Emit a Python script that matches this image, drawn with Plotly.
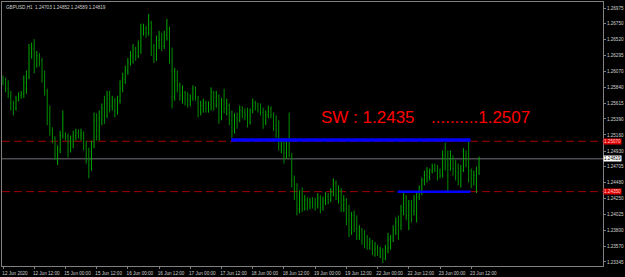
import plotly.graph_objects as go

SYMBOL = "GBPUSD,H1"

OPEN = [1.2594,1.2591,1.2582,1.2575,1.2562,1.2554,1.2565,1.2572,1.2575,1.2591,
        1.2599,1.2633,1.2639,1.2615,1.2629,1.2622,1.2601,1.2579,1.2544,1.2522,
        1.2511,1.2487,1.2494,1.2515,1.2517,1.2514,1.2494,1.2508,1.2515,1.2520,
        1.2515,1.2518,1.2501,1.2480,1.2473,1.2501,1.2537,1.2522,1.2540,1.2554,
        1.2544,1.2568,1.2558,1.2565,1.2551,1.2565,1.2582,1.2596,1.2608,1.2619,
        1.2629,1.2639,1.2629,1.2643,1.2665,1.2668,1.2662,1.2676,1.2643,1.2625,
        1.2651,1.2653,1.2643,1.2658,1.2668,1.2622,1.2572,1.2594,1.2587,1.2572,
        1.2577,1.2568,1.2565,1.2569,1.2582,1.2569,1.2551,1.2558,1.2562,1.2554,
        1.2559,1.2577,1.2558,1.2572,1.2540,1.2565,1.2554,1.2558,1.2537,1.2522,
        1.2540,1.2537,1.2551,1.2548,1.2544,1.2534,1.2551,1.2562,1.2557,1.2552,
        1.2548,1.2532,1.2544,1.2554,1.2545,1.2530,1.2522,1.2501,1.2508,1.2494,
        1.2501,1.2487,1.2451,1.2430,1.2416,1.2423,1.2411,1.2423,1.2416,1.2420,
        1.2418,1.2416,1.2426,1.2413,1.2423,1.2428,1.2424,1.2434,1.2448,1.2430,
        1.2437,1.2416,1.2423,1.2394,1.2380,1.2401,1.2387,1.2373,1.2380,1.2366,
        1.2363,1.2359,1.2363,1.2352,1.2354,1.2349,1.2352,1.2340,1.2354,1.2366,
        1.2369,1.2380,1.2391,1.2387,1.2408,1.2426,1.2401,1.2416,1.2408,1.2423,
        1.2427,1.2437,1.2451,1.2458,1.2463,1.2465,1.2471,1.2465,1.2463,1.2458,
        1.2487,1.2480,1.2473,1.2482,1.2468,1.2463,1.2451,1.2465,1.2487,1.2480,
        1.2465,1.2454,1.2458,1.24703]
HIGH = [1.2601,1.2598,1.2594,1.2579,1.2565,1.2572,1.2577,1.2579,1.2601,1.2608,
        1.2646,1.2648,1.2653,1.2636,1.2633,1.2626,1.2608,1.2582,1.2558,1.2527,
        1.2514,1.2501,1.2522,1.2551,1.2520,1.2518,1.2515,1.2522,1.2525,1.2524,
        1.2525,1.2521,1.2508,1.2498,1.2508,1.2548,1.2547,1.2551,1.2561,1.2572,
        1.2579,1.2579,1.2572,1.2569,1.2572,1.2594,1.2605,1.2615,1.2626,1.2636,
        1.2646,1.2642,1.2651,1.2675,1.2675,1.2672,1.2689,1.2679,1.2646,1.2658,
        1.2665,1.2662,1.2665,1.2682,1.2671,1.2641,1.2612,1.2608,1.2591,1.2587,
        1.2579,1.2577,1.2574,1.2587,1.2585,1.2572,1.2565,1.2568,1.2565,1.2564,
        1.2584,1.2579,1.2579,1.2574,1.2569,1.2582,1.2568,1.2561,1.2551,1.2547,
        1.2548,1.2558,1.2557,1.2554,1.2555,1.2554,1.2568,1.2565,1.2562,1.2561,
        1.2555,1.2551,1.2558,1.2557,1.2548,1.2544,1.2537,1.2511,1.2511,1.2508,
        1.2548,1.2490,1.2458,1.2447,1.2437,1.2441,1.2430,1.2427,1.2426,1.2427,
        1.2426,1.2433,1.2430,1.2428,1.2434,1.2433,1.2440,1.2454,1.2451,1.2444,
        1.2440,1.2430,1.2426,1.2416,1.2406,1.2408,1.2401,1.2387,1.2383,1.2380,
        1.2373,1.2369,1.2366,1.2363,1.2359,1.2356,1.2354,1.2359,1.2376,1.2373,
        1.2387,1.2398,1.2401,1.2416,1.2433,1.2430,1.2423,1.2423,1.2430,1.2433,
        1.2444,1.2455,1.2465,1.2470,1.2468,1.2475,1.2475,1.2473,1.2468,1.2494,
        1.2505,1.2494,1.2494,1.2487,1.2480,1.2475,1.2473,1.2497,1.2494,1.2508,
        1.2468,1.2465,1.2470,1.24852]
LOW = [1.2587,1.2577,1.2569,1.2551,1.2544,1.2551,1.2564,1.2568,1.2569,1.2575,
       1.2596,1.2625,1.2604,1.2612,1.2614,1.2591,1.2572,1.2530,1.2515,1.2504,
       1.2480,1.2473,1.2490,1.2511,1.2508,1.2484,1.2491,1.2497,1.2508,1.2511,
       1.2508,1.2494,1.2475,1.2454,1.2465,1.2497,1.2508,1.2508,1.2530,1.2532,
       1.2540,1.2548,1.2551,1.2541,1.2545,1.2561,1.2577,1.2589,1.2602,1.2615,
       1.2618,1.2622,1.2626,1.2632,1.2658,1.2655,1.2658,1.2629,1.2619,1.2622,
       1.2639,1.2636,1.2639,1.2651,1.2618,1.2554,1.2565,1.2577,1.2565,1.2561,
       1.2558,1.2555,1.2557,1.2565,1.2565,1.2541,1.2544,1.2548,1.2548,1.2548,
       1.2551,1.2551,1.2555,1.2532,1.2537,1.2547,1.2544,1.2530,1.2512,1.2518,
       1.2525,1.2534,1.2540,1.2537,1.2527,1.2531,1.2547,1.2551,1.2548,1.2544,
       1.2525,1.2530,1.2540,1.2540,1.2522,1.2512,1.2494,1.2490,1.2475,1.2482,
       1.2484,1.2441,1.2423,1.2401,1.2404,1.2406,1.2408,1.2408,1.2410,1.2411,
       1.2408,1.2411,1.2404,1.2408,1.2416,1.2417,1.2420,1.2428,1.2423,1.2418,
       1.2406,1.2406,1.2387,1.2370,1.2373,1.2377,1.2366,1.2366,1.2359,1.2354,
       1.2352,1.2352,1.2344,1.2342,1.2343,1.2340,1.2333,1.2337,1.2347,1.2352,
       1.2363,1.2373,1.2366,1.2380,1.2401,1.2394,1.2380,1.2391,1.2401,1.2391,
       1.2423,1.2430,1.2444,1.2448,1.2451,1.2461,1.2463,1.2451,1.2454,1.2455,
       1.2465,1.2434,1.2465,1.2458,1.2451,1.2444,1.2441,1.2463,1.2470,1.2448,
       1.2440,1.2444,1.2433,1.24589]
CLOSE = [1.2591,1.2582,1.2575,1.2562,1.2554,1.2565,1.2572,1.2575,1.2591,1.2599,
         1.2633,1.2639,1.2615,1.2629,1.2622,1.2601,1.2579,1.2544,1.2522,1.2511,
         1.2487,1.2494,1.2515,1.2540,1.2514,1.2494,1.2508,1.2515,1.2520,1.2515,
         1.2518,1.2501,1.2480,1.2473,1.2501,1.2537,1.2522,1.2540,1.2554,1.2544,
         1.2568,1.2558,1.2565,1.2551,1.2565,1.2582,1.2596,1.2608,1.2619,1.2629,
         1.2639,1.2629,1.2643,1.2665,1.2668,1.2662,1.2676,1.2643,1.2625,1.2651,
         1.2653,1.2643,1.2658,1.2668,1.2622,1.2572,1.2594,1.2587,1.2572,1.2577,
         1.2568,1.2565,1.2569,1.2582,1.2569,1.2551,1.2558,1.2562,1.2554,1.2559,
         1.2577,1.2558,1.2572,1.2540,1.2565,1.2554,1.2558,1.2537,1.2522,1.2540,
         1.2537,1.2551,1.2548,1.2544,1.2534,1.2551,1.2562,1.2557,1.2552,1.2548,
         1.2532,1.2544,1.2554,1.2545,1.2530,1.2522,1.2501,1.2508,1.2494,1.2501,
         1.2487,1.2451,1.2430,1.2416,1.2423,1.2411,1.2423,1.2416,1.2420,1.2417,
         1.2416,1.2426,1.2413,1.2423,1.2428,1.2424,1.2434,1.2448,1.2430,1.2437,
         1.2416,1.2423,1.2394,1.2380,1.2401,1.2387,1.2373,1.2380,1.2366,1.2363,
         1.2359,1.2363,1.2352,1.2354,1.2349,1.2352,1.2340,1.2354,1.2366,1.2369,
         1.2380,1.2391,1.2387,1.2408,1.2426,1.2401,1.2416,1.2408,1.2423,1.2427,
         1.2437,1.2451,1.2458,1.2463,1.2465,1.2471,1.2465,1.2463,1.2458,1.2487,
         1.2480,1.2473,1.2482,1.2468,1.2463,1.2451,1.2465,1.2487,1.2480,1.2465,
         1.2454,1.2458,1.2471,1.24819]

TIME_LABELS = ["12 Jun 2020", "12 Jun 12:00", "15 Jun 00:00", "15 Jun 12:00",
               "16 Jun 00:00", "16 Jun 12:00", "17 Jun 00:00", "17 Jun 12:00",
               "18 Jun 00:00", "18 Jun 12:00", "19 Jun 00:00", "19 Jun 12:00",
               "22 Jun 00:00", "22 Jun 12:00", "23 Jun 00:00", "23 Jun 12:00"]
TIME_LABEL_BARS = [0, 12, 24, 36, 48, 60, 72, 84, 96, 108, 120, 132, 144, 156, 168, 180]

PRICE_TICKS = [1.26975, 1.26750, 1.26520, 1.26295, 1.26070, 1.25840, 1.25615, 1.25390,
               1.25160, 1.24930, 1.24705, 1.24480, 1.24250, 1.24025, 1.23800, 1.23570, 1.23345]

SW_LOW = 1.2435
SW_HIGH = 1.2507
ZONE_TOP = 1.2509
ZONE_TOP_START_BAR = 87.7
ZONE_LOW_START_BAR = 151.7
ZONE_END_BAR = 179.7
LEVEL_LABELS = ["1.25070", "1.24350"]
BID = 1.24819

bars = list(range(len(CLOSE)))

fig = go.Figure()
fig.add_trace(go.Ohlc(
    x=bars, open=OPEN, high=HIGH, low=LOW, close=CLOSE,
    increasing=dict(line=dict(color="#00a800", width=1)),
    decreasing=dict(line=dict(color="#008c00", width=1)),
    tickwidth=0.18, hoverinfo="skip", showlegend=False,
))

# dashed level lines
for lvl in (SW_HIGH, SW_LOW):
    fig.add_shape(type="line", xref="paper", x0=0, x1=1, yref="y", y0=lvl, y1=lvl,
                  line=dict(color="#a00000", width=1, dash="8px,4px"), layer="below")
# bid line
fig.add_shape(type="line", xref="paper", x0=0, x1=1, yref="y", y0=BID, y1=BID,
              line=dict(color="#70707a", width=1), layer="below")
# blue zone lines
fig.add_shape(type="line", x0=ZONE_TOP_START_BAR, x1=ZONE_END_BAR, y0=ZONE_TOP, y1=ZONE_TOP,
              line=dict(color="#0000ff", width=3.5))
fig.add_shape(type="line", x0=ZONE_LOW_START_BAR, x1=ZONE_END_BAR, y0=SW_LOW, y1=SW_LOW,
              line=dict(color="#0000ff", width=2.5))

annos = []
annos.append(dict(xref="paper", yref="paper", x=0.004, y=0.997, xanchor="left", yanchor="top",
                  text=f"{SYMBOL}  {OPEN[-1]:.5f} {HIGH[-1]:.5f} {LOW[-1]:.5f} {CLOSE[-1]:.5f}",
                  showarrow=False, font=dict(family="Liberation Sans", size=4.6, color="#d0d0d0")))
annos.append(dict(x=121.5, y=1.2541, xanchor="left", yanchor="middle", showarrow=False,
                  text=f"SW : {SW_LOW:.4f}",
                  font=dict(family="Liberation Sans", size=17, color="#ff0000")))
annos.append(dict(x=163.6, y=1.2541, xanchor="left", yanchor="middle", showarrow=False,
                  text=".........." + f"{SW_HIGH:.4f}",
                  font=dict(family="Liberation Sans", size=17, color="#ff0000")))
for lvl, lab in zip((SW_HIGH, SW_LOW), LEVEL_LABELS):
    annos.append(dict(xref="paper", x=1.0, y=lvl, xanchor="left", yanchor="middle",
                      showarrow=False, text=lab, bgcolor="#e00000", borderpad=0,
                      font=dict(family="Liberation Sans", size=4.6, color="#ffd0d0")))
annos.append(dict(xref="paper", x=1.0, y=BID, xanchor="left", yanchor="middle",
                  showarrow=False, text=f"{BID:.5f}", bgcolor="#ffffff", borderpad=0,
                  font=dict(family="Liberation Sans", size=4.6, color="#000000")))

fig.update_layout(
    width=625, height=277,
    margin=dict(l=1, r=21, t=1, b=11),
    paper_bgcolor="#000000", plot_bgcolor="#000000",
    showlegend=False,
    annotations=annos,
    xaxis=dict(range=[-0.383, 230.65], rangeslider=dict(visible=False),
               showgrid=False, zeroline=False, showline=True, mirror=True,
               linecolor="#808080", linewidth=1,
               tickmode="array", tickvals=TIME_LABEL_BARS, ticktext=TIME_LABELS,
               ticks="outside", ticklen=2, tickcolor="#808080",
               ticklabelshift=12, ticklabelstandoff=0,
               tickfont=dict(family="Liberation Sans", size=4.6, color="#d0d0d0")),
    yaxis=dict(range=[1.23287, 1.27061], side="right",
               showgrid=False, zeroline=False, showline=True, mirror=True,
               linecolor="#808080", linewidth=1,
               tickmode="array", tickvals=PRICE_TICKS,
               ticktext=[f"{v:.5f}" for v in PRICE_TICKS],
               ticks="outside", ticklen=2, tickcolor="#808080", ticklabelstandoff=0,
               tickfont=dict(family="Liberation Sans", size=4.6, color="#d0d0d0")),
)

fig.write_html("out.html")
